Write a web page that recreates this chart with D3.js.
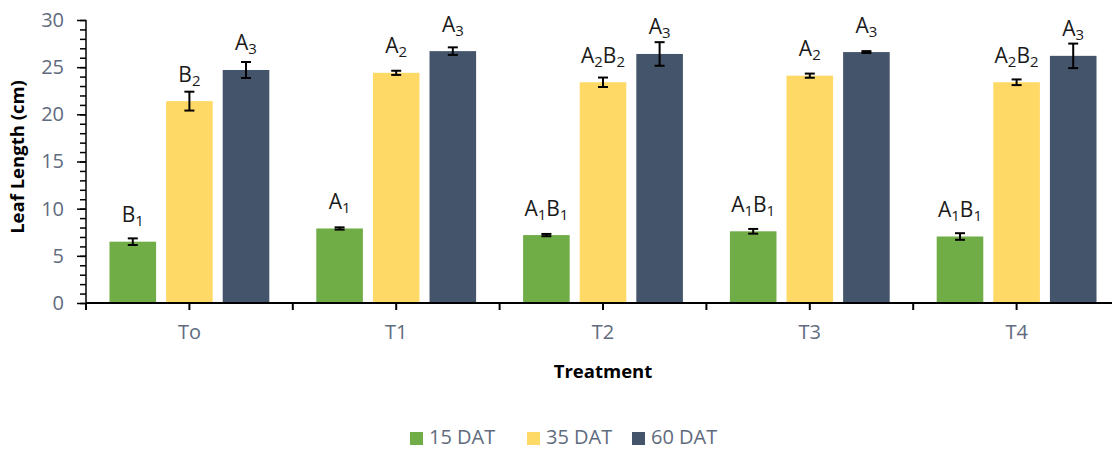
<!DOCTYPE html>
<html>
<head>
<meta charset="utf-8">
<script src="https://cdn.jsdelivr.net/npm/d3@7"></script>
<style>
  html, body { margin: 0; padding: 0; background: #fff; }
  svg { display: block; font-family: "Open Sans", "Noto Sans", sans-serif; }
</style>
</head>
<body>
<svg id="chart" width="1112" height="450"></svg>
<script>
// Treatments on the x axis
const treatments = ["To", "T1", "T2", "T3", "T4"];
// Sampling times (series)
const seriesNames = ["15 DAT", "35 DAT", "60 DAT"];
const seriesColors = ["#70ad47", "#ffd966", "#44546a"];
// Mean leaf length (cm) per series, in treatment order
const dat15 = [6.5, 7.9, 7.2, 7.6, 7.05];
const dat35 = [21.4, 24.4, 23.4, 24.1, 23.4];
const dat60 = [24.7, 26.7, 26.4, 26.6, 26.2];
// Standard error per series
const err15 = [0.35, 0.12, 0.12, 0.25, 0.35];
const err35 = [1.0, 0.22, 0.5, 0.22, 0.3];
const err60 = [0.85, 0.4, 1.25, 0.1, 1.3];
// Significance letters (digits are drawn as subscripts)
const lab15 = ["B1", "A1", "A1B1", "A1B1", "A1B1"];
const lab35 = ["B2", "A2", "A2B2", "A2", "A2B2"];
const lab60 = ["A3", "A3", "A3", "A3", "A3"];
// Y axis ticks
const yTicks = [0, 5, 10, 15, 20, 25, 30];

const values = [dat15, dat35, dat60];
const errors = [err15, err35, err60];
const labels = [lab15, lab35, lab60];

const svg = d3.select("#chart");
const axisColor = "#000";
const textColor = "#5f6b7e";

const plot = { left: 86, right: 1120, top: 20, bottom: 303 };

const y = d3.scaleLinear().domain([0, 30]).range([plot.bottom, plot.top]);
const x0 = d3.scaleBand().domain(treatments).range([plot.left, plot.right]).padding(0);
const x1 = d3.scaleBand().domain(seriesNames).range([0, x0.bandwidth()])
  .paddingInner(0.177).paddingOuter(0.415);

// Flattened records for bars
const records = [];
treatments.forEach((t, i) => {
  seriesNames.forEach((s, j) => {
    records.push({ t, s, j, v: values[j][i], e: errors[j][i], lab: labels[j][i] });
  });
});

// Bars
svg.append("g").selectAll("rect").data(records).join("rect")
  .attr("x", d => x0(d.t) + x1(d.s))
  .attr("y", d => y(d.v))
  .attr("width", x1.bandwidth())
  .attr("height", d => y(0) - y(d.v))
  .attr("fill", d => seriesColors[d.j]);

// Error bars
const eb = svg.append("g").attr("stroke", "#000").attr("stroke-width", 2);
records.forEach(d => {
  const cx = x0(d.t) + x1(d.s) + x1.bandwidth() / 2;
  const y1 = y(d.v + d.e), y2 = y(d.v - d.e);
  eb.append("line").attr("x1", cx).attr("x2", cx).attr("y1", y1).attr("y2", y2);
  eb.append("line").attr("x1", cx - 5).attr("x2", cx + 5).attr("y1", y1).attr("y2", y1);
  eb.append("line").attr("x1", cx - 5).attr("x2", cx + 5).attr("y1", y2).attr("y2", y2);
});

// Significance letters above bars
const lg = svg.append("g").attr("fill", "#1a1a1a").attr("font-size", 21).attr("text-anchor", "middle");
records.forEach(d => {
  const cx = x0(d.t) + x1(d.s) + x1.bandwidth() / 2;
  const txt = lg.append("text").attr("x", cx).attr("y", y(d.v) - 19.5);
  const parts = d.lab.match(/[A-Z]|\d/g);
  let prevSub = false;
  parts.forEach(p => {
    if (/\d/.test(p)) {
      txt.append("tspan").attr("font-size", 15).attr("dy", 4).text(p);
      prevSub = true;
    } else {
      txt.append("tspan").attr("dy", prevSub ? -4 : 0).text(p);
      prevSub = false;
    }
  });
});

// Y axis with major and minor ticks
const yAxisG = svg.append("g").attr("transform", `translate(${plot.left},0)`);
yAxisG.call(d3.axisLeft(y).tickValues(d3.range(0, 31, 1)).tickSize(6).tickFormat(""))
  .call(g => g.select(".domain").remove())
  .call(g => g.selectAll("line").attr("stroke", axisColor).attr("stroke-width", 1.5));
yAxisG.append("g").call(d3.axisLeft(y).tickValues(yTicks).tickSize(9).tickPadding(13))
  .call(g => g.select(".domain").remove())
  .call(g => g.selectAll("line").attr("stroke", axisColor).attr("stroke-width", 1.5))
  .call(g => g.selectAll("text").attr("fill", textColor).attr("font-size", 20)
    .attr("font-family", "Open Sans, sans-serif"));
yAxisG.append("line").attr("x1", 0).attr("x2", 0).attr("y1", y(30)).attr("y2", y(0))
  .attr("stroke", axisColor).attr("stroke-width", 1.5);

// X axis: ticks at group centres and group boundaries
const xAxisG = svg.append("g").attr("transform", `translate(0,${plot.bottom})`);
xAxisG.append("line").attr("x1", plot.left).attr("x2", plot.right).attr("y1", 0).attr("y2", 0)
  .attr("stroke", axisColor).attr("stroke-width", 2);
const boundaries = treatments.map(t => x0(t)).concat([x0(treatments[treatments.length - 1]) + x0.bandwidth()]);
xAxisG.selectAll("line.b").data(boundaries).join("line").attr("class", "b")
  .attr("x1", d => d).attr("x2", d => d).attr("y1", 0).attr("y2", 7)
  .attr("stroke", axisColor).attr("stroke-width", 2);
xAxisG.append("g").call(d3.axisBottom(x0).tickSize(7).tickPadding(15))
  .call(g => g.select(".domain").remove())
  .call(g => g.selectAll("line").attr("stroke", axisColor).attr("stroke-width", 2))
  .call(g => g.selectAll("text").attr("fill", textColor).attr("font-size", 20)
    .attr("font-family", "Open Sans, sans-serif"));

// Axis titles
svg.append("text").attr("transform", `translate(24,157) rotate(-90)`)
  .attr("text-anchor", "middle").attr("font-weight", "bold").attr("font-size", 18.5)
  .attr("fill", "#000").text("Leaf Length (cm)");
svg.append("text").attr("x", 603).attr("y", 378)
  .attr("text-anchor", "middle").attr("font-weight", "bold").attr("font-size", 18.5)
  .attr("fill", "#000").text("Treatment");

// Legend
const legendX = [410, 527, 632];
const leg = svg.append("g");
seriesNames.forEach((s, j) => {
  leg.append("rect").attr("x", legendX[j]).attr("y", 432).attr("width", 13).attr("height", 13)
    .attr("fill", seriesColors[j]);
  leg.append("text").attr("x", legendX[j] + 19).attr("y", 444)
    .attr("fill", textColor).attr("font-size", 20).text(s);
});
</script>
</body>
</html>
